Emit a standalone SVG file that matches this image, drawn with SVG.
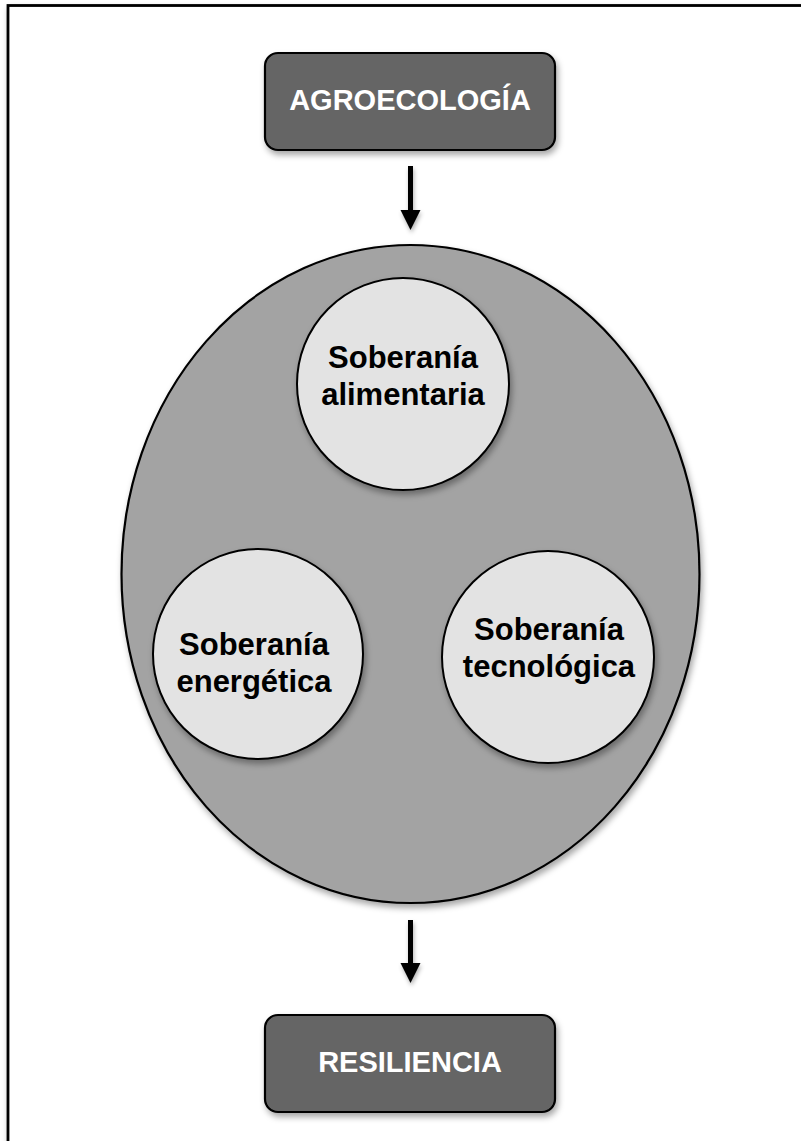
<svg xmlns="http://www.w3.org/2000/svg" width="801" height="1141" viewBox="0 0 801 1141">
  <defs>
    <filter id="sh" x="-20%" y="-20%" width="140%" height="140%">
      <feDropShadow dx="2" dy="4" stdDeviation="3" flood-color="#000" flood-opacity="0.35"/>
    </filter>
    <filter id="shs" x="-20%" y="-20%" width="140%" height="140%">
      <feDropShadow dx="1" dy="3" stdDeviation="2" flood-color="#000" flood-opacity="0.3"/>
    </filter>
    <style>
      .box { fill: #656565; stroke: #000; stroke-width: 2.2; }
      .circ { fill: #e3e3e3; stroke: #000; stroke-width: 2; }
      .oval { fill: #a3a3a3; stroke: #000; stroke-width: 2.2; }
      .tw { font-family: "Liberation Sans", Arial, sans-serif; font-weight: bold; font-size: 29px; fill: #ffffff; text-anchor: middle; }
      .tb { font-family: "Liberation Sans", Arial, sans-serif; font-weight: bold; font-size: 31px; fill: #000000; text-anchor: middle; }
      .shaft { stroke: #000; stroke-width: 5; fill: none; }
      .head { fill: #000; }
    </style>
  </defs>
  <rect x="0" y="0" width="801" height="1141" fill="#ffffff"/>
  <rect x="8" y="5.5" width="900" height="1200" fill="#ffffff" stroke="#000" stroke-width="2.8" filter="url(#sh)"/>

  <g id="connectors">
    <g filter="url(#shs)">
      <line class="shaft" x1="410.5" y1="166" x2="410.5" y2="212"/>
      <polygon class="head" points="400.5,210 420.5,210 410.5,230"/>
    </g>
    <g filter="url(#shs)">
      <line class="shaft" x1="410.5" y1="920" x2="410.5" y2="965"/>
      <polygon class="head" points="400.5,963 420.5,963 410.5,983"/>
    </g>
  </g>

  <g id="agroecologia">
    <rect class="box" x="265" y="53" width="290" height="97" rx="13" ry="13" filter="url(#sh)"/>
    <text class="tw" x="410" y="110">AGROECOLOGÍA</text>
  </g>

  <g id="soberanias">
    <ellipse class="oval" cx="410.5" cy="574" rx="289" ry="329" filter="url(#sh)"/>
  </g>

  <g id="alimentaria">
    <circle class="circ" cx="403" cy="384" r="106" filter="url(#sh)"/>
    <text class="tb" x="403" y="368">Soberanía</text>
    <text class="tb" x="403" y="405">alimentaria</text>
  </g>

  <g id="energetica">
    <circle class="circ" cx="258" cy="654" r="105" filter="url(#sh)"/>
    <text class="tb" x="254" y="655">Soberanía</text>
    <text class="tb" x="254" y="692">energética</text>
  </g>

  <g id="tecnologica">
    <circle class="circ" cx="548" cy="657" r="106" filter="url(#sh)"/>
    <text class="tb" x="549" y="640">Soberanía</text>
    <text class="tb" x="549" y="677">tecnológica</text>
  </g>

  <g id="resiliencia">
    <rect class="box" x="265" y="1015" width="290" height="97" rx="13" ry="13" filter="url(#sh)"/>
    <text class="tw" x="410" y="1072">RESILIENCIA</text>
  </g>
</svg>
